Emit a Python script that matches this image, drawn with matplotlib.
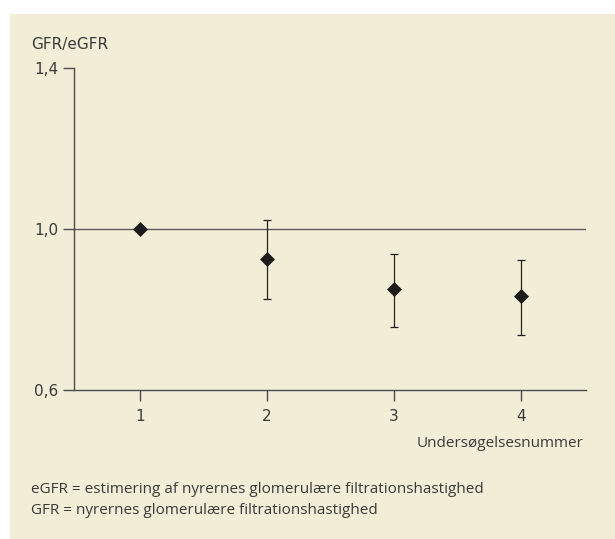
import matplotlib
matplotlib.use("Agg")
import matplotlib.pyplot as plt
from matplotlib.patches import Rectangle

# Data
exam_numbers = [1, 2, 3, 4]
ratio_mean = [1.0, 0.925, 0.85, 0.832]
ratio_upper = [1.0, 1.022, 0.937, 0.923]
ratio_lower = [1.0, 0.826, 0.757, 0.735]
y_ticks = [0.6, 1.0, 1.4]
y_tick_labels = ["0,6", "1,0", "1,4"]
x_tick_labels = ["1", "2", "3", "4"]
y_title = "GFR/eGFR"
x_title = "Undersøgelsesnummer"
footnotes = ["eGFR = estimering af nyrernes glomerulære filtrationshastighed",
             "GFR = nyrernes glomerulære filtrationshastighed"]

W, H = 615, 539
DPI = 100
plt.rcParams['font.family'] = ['Open Sans', 'DejaVu Sans']
WIDE = ['DejaVu Sans']
TXT = '#3a3a3a'
AX = '#4a4a4a'
BG = '#F2EDD6'
FS = 11

fig = plt.figure(figsize=(W / DPI, H / DPI), dpi=DPI, facecolor='white')
fig.patches.append(Rectangle((10 / W, 0), 1 - 10 / W, 1 - 14 / H,
                             transform=fig.transFigure, facecolor=BG,
                             edgecolor='none', zorder=-10))

def fx(px):
    return px / W

def fy(py):
    return 1 - py / H

left, right, top, bottom = 74, 586, 67.7, 389.7
ax = fig.add_axes([fx(left), fy(bottom), fx(right) - fx(left), fy(top) - fy(bottom)])
ax.set_zorder(5)
ax.set_facecolor('none')
ax.set_xlim(0.48, 4.51)
ax.set_ylim(0.6, 1.4)

for s in ['top', 'right']:
    ax.spines[s].set_visible(False)
for s in ['left', 'bottom']:
    ax.spines[s].set_color(AX)
    ax.spines[s].set_linewidth(1.0)

ax.axhline(1.0, color='#5a5a5a', lw=1.0, zorder=1)

yerr = [[m - l for m, l in zip(ratio_mean, ratio_lower)],
        [u - m for m, u in zip(ratio_mean, ratio_upper)]]
ax.errorbar(exam_numbers[1:], ratio_mean[1:],
            yerr=[yerr[0][1:], yerr[1][1:]], fmt='none',
            ecolor='#222222', elinewidth=0.9, capsize=3.0, capthick=0.9, zorder=2)
ax.plot(exam_numbers, ratio_mean, linestyle='none', marker='D',
        markersize=7.2, color='#1e1c1c', markeredgewidth=0.5, zorder=3)

ax.set_xticks(exam_numbers)
ax.set_xticklabels(x_tick_labels, family=WIDE)
ax.set_yticks(y_ticks)
ax.set_yticklabels(y_tick_labels, family=WIDE)
ax.tick_params(axis='both', direction='out', length=8, width=1.0, color=AX,
               labelcolor=TXT, labelsize=FS)
ax.tick_params(axis='x', pad=6)
ax.tick_params(axis='y', pad=3)

fig.text(fx(31), fy(49), y_title, ha='left', va='baseline', fontsize=FS,
         color=TXT, family=WIDE)
fig.text(fx(583), fy(446.7), x_title, ha='right', va='baseline', fontsize=FS, color=TXT)
fig.text(fx(31), fy(492.7), footnotes[0], ha='left', va='baseline', fontsize=FS, color=TXT)
fig.text(fx(31), fy(514), footnotes[1], ha='left', va='baseline', fontsize=FS, color=TXT)

fig.savefig('out.png', dpi=DPI, facecolor='white')
